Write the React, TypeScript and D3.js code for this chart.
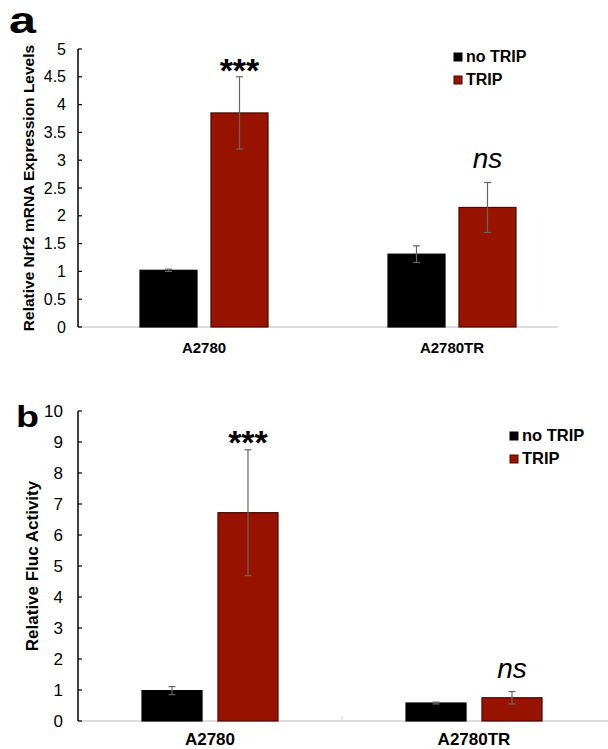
import React from "react";
import * as d3 from "d3";

const categories = ["A2780", "A2780TR"];
const seriesNames = ["no TRIP", "TRIP"];

// Panel a: Relative Nrf2 mRNA Expression Levels
const nrf2NoTrip = [1.02, 1.31];
const nrf2NoTripErr = [0.02, 0.15];
const nrf2Trip = [3.85, 2.15];
const nrf2TripErr = [0.65, 0.45];
const nrf2Annot = ["***", "ns"];
const nrf2Ticks = [0, 0.5, 1, 1.5, 2, 2.5, 3, 3.5, 4, 4.5, 5];

// Panel b: Relative Fluc Activity
const flucNoTrip = [0.98, 0.58];
const flucNoTripErr = [0.13, 0.03];
const flucTrip = [6.72, 0.75];
const flucTripErr = [2.03, 0.2];
const flucAnnot = ["***", "ns"];
const flucTicks = [0, 1, 2, 3, 4, 5, 6, 7, 8, 9, 10];

const COLORS = ["#000000", "#981400"];
const STROKES = ["#000000", "#4a0800"];
const FONT = "'Liberation Sans', Arial, Helvetica, sans-serif";

type PanelProps = {
  letter: string;
  letterX: number;
  letterY: number;
  letterSize: number;
  letterW: number;
  yLabel: string;
  yLabelX: number;
  yLabelSize: number;
  yMax: number;
  yTop: number;
  yBottom: number;
  ticks: number[];
  tickFont: number;
  tickLabelX: number;
  xRange: [number, number];
  axisEnd: number;
  pairWidth: number;
  pad: number;
  series: number[][];
  errs: number[][];
  annots: string[];
  starBase: number;
  catLabelY: number;
  catFont: number;
  legendX: number;
  legendY: number;
  legendFont: number;
  boundaryTick: boolean;
};

function Panel(p: PanelProps) {
  const y = d3.scaleLinear().domain([0, p.yMax]).range([p.yBottom, p.yTop]);
  const x0 = d3.scaleBand<string>().domain(categories).range(p.xRange).padding(0);
  const x1 = d3
    .scaleBand<string>()
    .domain(seriesNames)
    .range([-p.pairWidth / 2, p.pairWidth / 2])
    .paddingInner(p.pad)
    .paddingOuter(0);
  const bw = x1.bandwidth();
  const axisX = 78;
  const yMid = (p.yTop + p.yBottom) / 2;
  return (
    <g>
      <text
        x={p.letterX}
        y={p.letterY}
        fontFamily={FONT}
        fontWeight="bold"
        fontSize={p.letterSize}
        textLength={p.letterW}
        lengthAdjust="spacingAndGlyphs"
      >
        {p.letter}
      </text>
      <text
        transform={`translate(${p.yLabelX},${yMid}) rotate(-90)`}
        textAnchor="middle"
        dominantBaseline="central"
        fontFamily={FONT}
        fontWeight="bold"
        fontSize={p.yLabelSize}
      >
        {p.yLabel}
      </text>
      {/* x baseline */}
      <line x1={axisX} x2={p.axisEnd} y1={y(0)} y2={y(0)} stroke="#d0d0d0" strokeWidth={1.5} />
      {p.boundaryTick && (
        <line
          x1={x0(categories[1])!}
          x2={x0(categories[1])!}
          y1={y(0)}
          y2={y(0) - 5}
          stroke="#d0d0d0"
          strokeWidth={1}
        />
      )}
      {/* bars */}
      {categories.map((c, ci) => {
        const cx = x0(c)! + x0.bandwidth() / 2;
        return (
          <g key={c}>
            {seriesNames.map((s, si) => {
              const v = p.series[si][ci];
              const e = p.errs[si][ci];
              const bx = cx + x1(s)!;
              return (
                <g key={s}>
                  <rect
                    x={bx}
                    y={y(v)}
                    width={bw}
                    height={y(0) - y(v)}
                    fill={COLORS[si]}
                    stroke={STROKES[si]}
                    strokeWidth={1.2}
                  />
                  <line x1={bx + bw / 2} x2={bx + bw / 2} y1={y(v + e)} y2={y(v - e)} stroke="#666" strokeWidth={1.2} />
                  <line x1={bx + bw / 2 - 3.5} x2={bx + bw / 2 + 3.5} y1={y(v + e)} y2={y(v + e)} stroke="#666" strokeWidth={1.2} />
                  <line x1={bx + bw / 2 - 3.5} x2={bx + bw / 2 + 3.5} y1={y(v - e)} y2={y(v - e)} stroke="#666" strokeWidth={1.2} />
                </g>
              );
            })}
            <text
              x={cx + x1(seriesNames[1])! + bw / 2}
              y={p.annots[ci] === "***" ? p.starBase : y(p.series[1][ci] + p.errs[1][ci]) - 14}
              textAnchor="middle"
              fontFamily={FONT}
              fontWeight={p.annots[ci] === "***" ? "bold" : "normal"}
              fontStyle={p.annots[ci] === "***" ? "normal" : "italic"}
              fontSize={p.annots[ci] === "***" ? 34 : 28}
            >
              {p.annots[ci]}
            </text>
            <text
              x={cx}
              y={p.catLabelY}
              textAnchor="middle"
              fontFamily={FONT}
              fontWeight="bold"
              fontSize={p.catFont}
            >
              {c}
            </text>
          </g>
        );
      })}
      {/* y axis */}
      <line x1={axisX} x2={axisX} y1={y(p.yMax)} y2={y(0)} stroke="#000" strokeWidth={1.5} />
      {p.ticks.map((t) => (
        <g key={t}>
          <line x1={axisX} x2={axisX + 4} y1={y(t)} y2={y(t)} stroke="#000" strokeWidth={1.2} />
          <text
            x={p.tickLabelX}
            y={y(t)}
            textAnchor="end"
            dominantBaseline="central"
            fontFamily={FONT}
            fontSize={p.tickFont}
          >
            {String(t)}
          </text>
        </g>
      ))}
      {/* legend */}
      {seriesNames.map((s, si) => (
        <g key={s} transform={`translate(${p.legendX},${p.legendY + si * 23})`}>
          <rect x={0} y={-9} width={8} height={8} fill={COLORS[si]} stroke={STROKES[si]} strokeWidth={1} />
          <text x={12} y={0} fontFamily={FONT} fontWeight="bold" fontSize={p.legendFont}>
            {s}
          </text>
        </g>
      ))}
    </g>
  );
}

export default function App() {
  return (
    <svg
      width={608}
      height={749}
      style={{ position: "absolute", left: 0, top: 0, background: "#fff" }}
    >
      <rect width={608} height={749} fill="#fff" />
      <Panel
        letter="a"
        letterX={9}
        letterY={33}
        letterSize={36}
        letterW={27}
        yLabel="Relative Nrf2 mRNA Expression Levels"
        yLabelX={28}
        yLabelSize={15.5}
        yMax={5}
        yTop={49}
        yBottom={327}
        ticks={nrf2Ticks}
        tickFont={16}
        tickLabelX={66}
        xRange={[80, 576]}
        axisEnd={558}
        pairWidth={128}
        pad={0.197}
        series={[nrf2NoTrip, nrf2Trip]}
        errs={[nrf2NoTripErr, nrf2TripErr]}
        annots={nrf2Annot}
        starBase={82}
        catLabelY={353}
        catFont={15}
        legendX={454}
        legendY={62}
        legendFont={16}
        boundaryTick={false}
      />
      <Panel
        letter="b"
        letterX={16}
        letterY={427}
        letterSize={29}
        letterW={23}
        yLabel="Relative Fluc Activity"
        yLabelX={32}
        yLabelSize={17}
        yMax={10}
        yTop={411}
        yBottom={721}
        ticks={flucTicks}
        tickFont={17}
        tickLabelX={63}
        xRange={[78, 606]}
        axisEnd={608}
        pairWidth={136}
        pad={0.21}
        series={[flucNoTrip, flucTrip]}
        errs={[flucNoTripErr, flucTripErr]}
        annots={flucAnnot}
        starBase={454}
        catLabelY={745}
        catFont={17}
        legendX={510}
        legendY={441}
        legendFont={16.5}
        boundaryTick={true}
      />
    </svg>
  );
}
